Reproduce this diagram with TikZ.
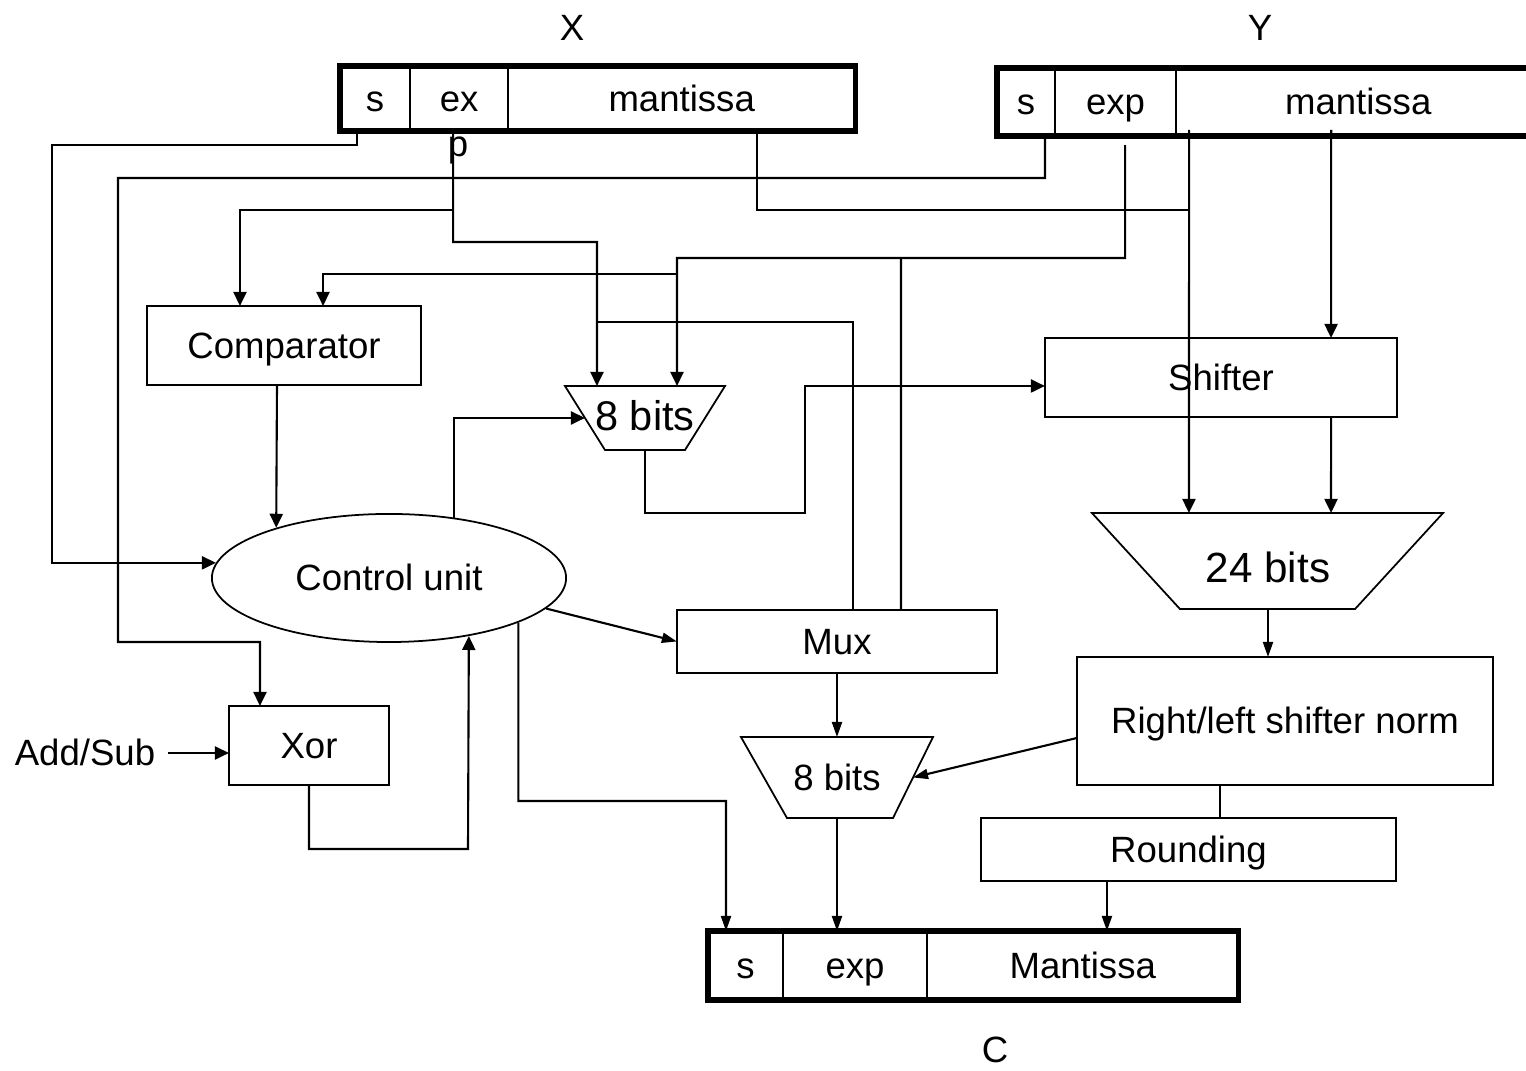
\documentclass[tikz,border=0pt]{standalone}
\usepackage{fontspec}
\setmainfont{Liberation Sans}
\usetikzlibrary{arrows.meta,positioning,shapes.geometric}

\begin{document}
\begin{tikzpicture}[x=0.01cm,y=-0.01cm,line width=0.6pt,
  font=\fontsize{10.4}{12}\selectfont,
  every node/.append style={text height=0.716em,text depth=0pt},
  block/.style={draw,rectangle,inner sep=0pt,outer sep=0pt},
  field/.style={draw,line width=0.5pt,inner sep=0pt,outer sep=0pt,anchor=west},
  regbox/.style={line width=1.5pt},
  trap/.style={inner sep=0pt,outer sep=0pt},
  arr/.style={-{Triangle[length=0.14cm,width=0.13cm]}},
  arrs/.style={-{Triangle[length=0.15cm,width=0.10cm]}}]
\useasboundingbox (0,0) rectangle (1526,1071);

% operand X
\node[field,minimum width=0.70cm,minimum height=0.65cm] (xs) at (340,98.5) {s};
\node[field,minimum width=0.98cm,minimum height=0.65cm,right=0pt of xs] (xe) {ex};
\node[field,minimum width=3.47cm,minimum height=0.65cm,right=0pt of xe] (xm) {mantissa};
\draw[regbox] (xs.north west) rectangle (xm.south east);
\node (xlbl) at (572,28) {X};
\node (plbl) at (458,144) {p};

% operand Y
\node[field,minimum width=0.58cm,minimum height=0.68cm] (ys) at (997,102) {s};
\node[field,minimum width=1.21cm,minimum height=0.68cm,right=0pt of ys] (ye) {exp};
\node[field,minimum width=3.64cm,minimum height=0.68cm,right=0pt of ye] (ym) {mantissa};
\draw[regbox] (ys.north west) rectangle (ym.south east);
\node (ylbl) at (1260,28) {Y};

% result C
\node[field,minimum width=0.75cm,minimum height=0.69cm] (cs) at (708,965.5) {s};
\node[field,minimum width=1.44cm,minimum height=0.69cm,right=0pt of cs] (ce) {exp};
\node[field,minimum width=3.11cm,minimum height=0.69cm,right=0pt of ce] (cmant) {Mantissa};
\draw[regbox] (cs.north west) rectangle (cmant.south east);
\node (clbl) at (995,1050) {C};

% blocks
\node[block,minimum width=2.73cm,minimum height=0.79cm] (cmp) at (284,345.5) {Comparator};
\node[draw,ellipse,line width=0.5pt,inner sep=0pt,minimum width=3.54cm,minimum height=1.28cm] (cu) at (389,578) {Control unit};
\node[block,minimum width=1.60cm,minimum height=0.79cm] (xor) at (309,745.5) {Xor};
\node (addsub) at (85,753) {Add/Sub};
\node[block,minimum width=3.52cm,minimum height=0.79cm] (shf) at (1221,377.5) {Shifter};
\node[block,minimum width=3.20cm,minimum height=0.63cm] (mux) at (837,641.5) {Mux};
\node[block,minimum width=4.16cm,minimum height=1.28cm] (norm) at (1285,721) {Right/left shifter norm};
\node[block,minimum width=4.15cm,minimum height=0.63cm] (rnd) at (1188.5,849.5) {Rounding};

% adders drawn as trapezoids round their labels
\node[trap,minimum width=1.20cm,minimum height=0.64cm,font=\fontsize{11.8}{14}\selectfont] (sub8) at (645,418) {8 bits};
\draw[line width=0.5pt] ([xshift=-0.80cm]sub8.north) -- ([xshift=0.80cm]sub8.north)
  -- ([xshift=0.40cm]sub8.south) -- ([xshift=-0.40cm]sub8.south) -- cycle;
\node[trap,minimum width=2.64cm,minimum height=0.96cm,font=\fontsize{12}{14}\selectfont] (add24) at (1268,561) {\raisebox{-0.09cm}{24 bits}};
\draw[line width=0.5pt] ([xshift=-1.76cm]add24.north) -- ([xshift=1.75cm]add24.north)
  -- ([xshift=0.87cm]add24.south) -- ([xshift=-0.88cm]add24.south) -- cycle;
\node[trap,minimum width=1.52cm,minimum height=0.81cm] (exp8) at (837,777.5) {8 bits};
\draw[line width=0.5pt] ([xshift=-0.96cm]exp8.north) -- ([xshift=0.96cm]exp8.north)
  -- ([xshift=0.56cm]exp8.south) -- ([xshift=-0.50cm]exp8.south) -- cycle;

% sign bits
\draw[arr] ([xshift=-0.18cm]xs.south) |- (52,145) |- (cu.175);
\draw[arr] ([xshift=0.19cm]ys.south) |- (118,178) |- (260,642) -- ([xshift=-0.49cm]xor.north);
% exponents
\draw[arr] ([xshift=-0.06cm]xe.south) |- (597,242) -- ([xshift=-0.48cm]sub8.north);
\draw[arr] (453,210) -| ([xshift=-0.44cm]cmp.north);
\draw (597,322) -| ([xshift=0.16cm]mux.north);
\draw[arr] ([shift={(0.095cm,-0.09cm)}]ye.south) |- (677,258) -- ([xshift=0.32cm]sub8.north);
\draw[arr] (677,274) -| ([xshift=0.39cm]cmp.north);
\draw (901,258) -- ([xshift=0.64cm]mux.north);
% mantissas
\draw ([xshift=0.755cm]xm.south) |- (1189,210);
\draw[arr] ([shift={(-1.69cm,0.06cm)}]ym.south) -- ([xshift=-0.79cm]add24.north);
\draw[arr] ([shift={(-0.27cm,0.06cm)}]ym.south) -- ([xshift=1.10cm]shf.north);
\draw[arr] ([xshift=1.10cm]shf.south) -- ([xshift=0.63cm]add24.north);
% control
\draw[arr] ([xshift=-0.07cm]cmp.south) -- (cu.156);
\draw[arr] (cu.43) |- (sub8.west);
\draw[arr] (sub8.south) |- (805,513) |- ([yshift=-0.085cm]shf.west);
\draw[arr] (addsub) -- (xor.west |- addsub);
\draw[arr] (xor.south) |- (468,849) -- (cu.-36);
\draw[arrs] (cu.-11) -- (mux.west);
\draw[arrs] (cu.-19) |- (726,801) -- ([xshift=-0.195cm]cs.north);
% result
\draw[arrs] (mux.south) -- (exp8.north);
\draw[arrs] (exp8.south) -- (exp8.south |- ce.north);
\draw[arrs] (add24.south) -- (add24.south |- norm.north);
\draw[arrs] ([yshift=-0.17cm]norm.west) -- (exp8.east);
\draw ([xshift=-0.65cm]norm.south) -- ([xshift=-0.65cm]norm.south |- rnd.north);
\draw[arrs] ([xshift=-0.815cm]rnd.south) -- ([xshift=-0.815cm]rnd.south |- cmant.north);
\end{tikzpicture}
\end{document}
